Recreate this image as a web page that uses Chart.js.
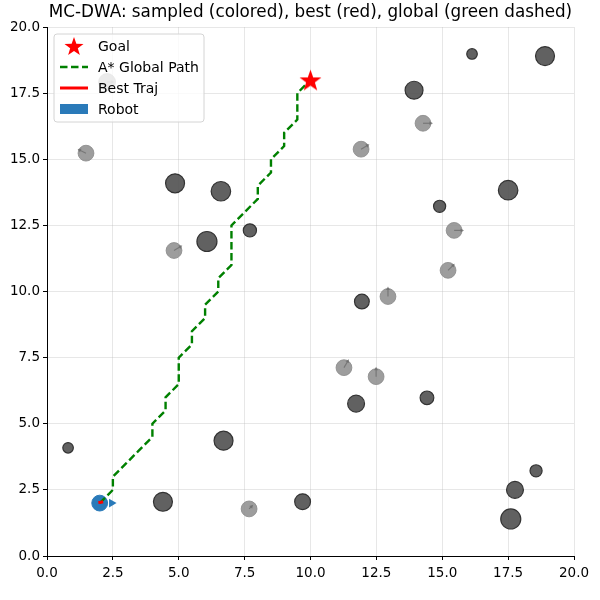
<!DOCTYPE html>
<html>
<head>
<meta charset="utf-8">
<script src="https://cdn.jsdelivr.net/npm/chart.js@4.4.0/dist/chart.umd.min.js"></script>
<style>
  html, body { margin: 0; padding: 0; background: #fff; }
</style>
</head>
<body>
<canvas id="mcdwa" width="600" height="600"></canvas>
<script>
// -----------------------------
// DATA
// -----------------------------
const goalX = [10];
const goalY = [18];

const robotX = [2];
const robotY = [2];
const robotR = 0.3;
const robotHeadX = [2.45];

// static obstacles (dark)
const staticX = [0.8, 4.4, 6.7, 9.7, 11.73, 14.42, 18.56, 17.76, 17.6, 11.95, 7.7, 6.07, 6.6, 4.86, 14.9, 17.5, 13.93, 16.13, 18.9];
const staticY = [4.09, 2.05, 4.36, 2.05, 5.76, 5.98, 3.22, 2.5, 1.4, 9.62, 12.31, 11.89, 13.79, 14.09, 13.22, 13.83, 17.61, 18.98, 18.9];
const staticR = [0.2, 0.36, 0.36, 0.3, 0.32, 0.26, 0.23, 0.32, 0.38, 0.28, 0.25, 0.38, 0.37, 0.36, 0.23, 0.37, 0.34, 0.2, 0.36];

// moving obstacles (light) + velocity arrows
const movingX = [1.48, 2.28, 4.82, 11.92, 14.27, 15.45, 15.22, 12.94, 11.27, 12.49, 7.67];
const movingY = [15.23, 17.92, 11.55, 15.38, 16.36, 12.31, 10.8, 9.81, 7.12, 6.78, 1.78];
const movingR = [0.3, 0.32, 0.3, 0.3, 0.3, 0.3, 0.3, 0.3, 0.3, 0.3, 0.3];
const movingVx = [-0.25, 0.2, 0.25, 0.25, 0.3, 0.3, 0.2, 0, 0.15, 0, 0.1];
const movingVy = [0.12, 0, 0.15, 0.15, 0, 0, 0.2, 0.3, 0.25, 0.3, 0.1];

// A* global path
const pathX = [2, 2.5, 2.5, 3, 3.5, 4, 4, 4.5, 4.5, 5, 5, 5.5, 5.5, 6, 6, 6.5, 6.5, 7, 7, 7.5, 8, 8, 8.5, 8.5, 9, 9, 9.5, 9.5, 10];
const pathY = [2, 2.5, 3, 3.5, 4, 4.5, 5, 5.5, 6, 6.5, 7.5, 8, 8.5, 9, 9.5, 10, 10.5, 11, 12.5, 13, 13.5, 14, 14.5, 15, 15.5, 16, 16.5, 17.5, 18];

// best trajectory
const bestX = [1.95, 2.05, 2.13];
const bestY = [2.02, 2.03, 2.05];

const tickValues = [0, 2.5, 5, 7.5, 10, 12.5, 15, 17.5, 20];

const FONT = "'DejaVu Sans', sans-serif";

const toPts = (xs, ys) => xs.map((x, i) => ({ x, y: ys[i] }));

// filled 5 point star for the goal marker
function makeStar(size, color) {
    const c = document.createElement("canvas");
    c.width = size; c.height = size;
    const g = c.getContext("2d");
    const cx = size / 2, cy = size / 2, ro = size / 2, ri = ro * 0.4;
    g.beginPath();
    for (let i = 0; i < 10; i++) {
        const r = i % 2 === 0 ? ro : ri;
        const a = -Math.PI / 2 + i * Math.PI / 5;
        g.lineTo(cx + r * Math.cos(a), cy + r * Math.sin(a) + size * 0.05);
    }
    g.closePath();
    g.fillStyle = color;
    g.fill();
    return c;
}
const starImg = makeStar(23, "red");
const starSmall = makeStar(20, "red");

// pixel radius from data radius through x scale
function radiusPx(ctx, rs) {
    const sx = ctx.chart.scales.x;
    if (!sx) return 5;
    const r = rs[ctx.dataIndex];
    return Math.abs(sx.getPixelForValue(r) - sx.getPixelForValue(0));
}

// -----------------------------
// PLUGINS
// -----------------------------
const arrowsPlugin = {
    id: "arrows",
    afterDatasetDraw(chart, args) {
        if (args.index !== 1) return;
        const { ctx, scales: { x, y } } = chart;
        ctx.save();
        ctx.strokeStyle = "rgba(110,110,110,0.8)";
        ctx.fillStyle = "rgba(110,110,110,0.8)";
        ctx.lineWidth = 1.2;
        movingX.forEach((mx, i) => {
            const x0 = x.getPixelForValue(mx), y0 = y.getPixelForValue(movingY[i]);
            const x1 = x.getPixelForValue(mx + movingVx[i]), y1 = y.getPixelForValue(movingY[i] + movingVy[i]);
            ctx.beginPath(); ctx.moveTo(x0, y0); ctx.lineTo(x1, y1); ctx.stroke();
            const a = Math.atan2(y1 - y0, x1 - x0);
            ctx.beginPath();
            ctx.moveTo(x1 + 2 * Math.cos(a), y1 + 2 * Math.sin(a));
            ctx.lineTo(x1 + 2.5 * Math.cos(a + 2.2), y1 + 2.5 * Math.sin(a + 2.2));
            ctx.lineTo(x1 + 2.5 * Math.cos(a - 2.2), y1 + 2.5 * Math.sin(a - 2.2));
            ctx.closePath(); ctx.fill();
        });
        ctx.restore();
    }
};

const titleLegendPlugin = {
    id: "titleLegend",
    afterDraw(chart) {
        const { ctx, chartArea } = chart;
        ctx.save();
        // title
        ctx.fillStyle = "#000";
        ctx.font = "16.8px " + FONT;
        ctx.textAlign = "center";
        ctx.textBaseline = "middle";
        ctx.fillText("MC-DWA: sampled (colored), best (red), global (green dashed)", (chartArea.left + chartArea.right) / 2, 13);

        // legend box
        const bx = chartArea.left + 7, by = chartArea.top + 7, bw = 150, bh = 88;
        ctx.beginPath();
        ctx.roundRect(bx, by, bw, bh, 3);
        ctx.fillStyle = "rgba(255,255,255,0.8)";
        ctx.fill();
        ctx.strokeStyle = "#d4d4d4";
        ctx.lineWidth = 1;
        ctx.stroke();

        const rows = [by + 12, by + 33, by + 54, by + 75];
        const ix0 = bx + 6, ix1 = bx + 34, tx = bx + 44;
        // goal
        ctx.drawImage(starSmall, (ix0 + ix1) / 2 - 10, rows[0] - 10);
        // A*
        ctx.beginPath();
        ctx.setLineDash([7.5, 3.5]);
        ctx.strokeStyle = "green"; ctx.lineWidth = 2.4;
        ctx.moveTo(ix0, rows[1]); ctx.lineTo(ix1, rows[1]); ctx.stroke();
        ctx.setLineDash([]);
        // best
        ctx.beginPath();
        ctx.strokeStyle = "red"; ctx.lineWidth = 3;
        ctx.moveTo(ix0, rows[2]); ctx.lineTo(ix1, rows[2]); ctx.stroke();
        // robot
        ctx.fillStyle = "#2a7ab9";
        ctx.fillRect(ix0, rows[3] - 5, ix1 - ix0, 10);

        ctx.fillStyle = "#000";
        ctx.font = "14px " + FONT;
        ctx.textAlign = "left";
        ["Goal", "A* Global Path", "Best Traj", "Robot"].forEach((t, i) => ctx.fillText(t, tx, rows[i] + 1));
        ctx.restore();
    }
};

// -----------------------------
// CHART
// -----------------------------
const axisCommon = (id) => ({
    type: "linear",
    min: 0,
    max: 20,
    afterBuildTicks: (s) => { s.ticks = tickValues.map(v => ({ value: v })); },
    afterFit: (s) => { if (id === "x") s.height = 44; else s.width = 47; },
    grid: { color: "rgba(176,176,176,0.3)", tickColor: "#000", tickLength: 4, lineWidth: 1 },
    border: { color: "#000", width: 1 },
    ticks: {
        color: "#000",
        font: { family: FONT, size: 13.5 },
        padding: id === "x" ? 5 : 3,
        maxRotation: 0,
        callback: (v) => Number(v).toFixed(1)
    }
});

new Chart(document.getElementById("mcdwa"), {
    type: "scatter",
    data: {
        datasets: [
            {
                label: "static",
                data: toPts(staticX, staticY),
                pointRadius: (c) => radiusPx(c, staticR),
                backgroundColor: "rgba(80,80,80,0.9)",
                borderColor: "#333",
                borderWidth: 1.2,
                order: 6
            },
            {
                label: "moving",
                data: toPts(movingX, movingY),
                pointRadius: (c) => radiusPx(c, movingR),
                backgroundColor: "rgba(140,140,140,0.85)",
                borderColor: "rgba(140,140,140,0.85)",
                borderWidth: 1,
                order: 5
            },
            {
                label: "A* Global Path",
                type: "line",
                data: toPts(pathX, pathY),
                borderColor: "green",
                borderWidth: 2.4,
                borderDash: [7.5, 3.5],
                pointRadius: 0,
                fill: false,
                order: 3
            },
            {
                label: "Robot",
                data: toPts(robotX, robotY),
                pointRadius: (c) => radiusPx({ chart: c.chart, dataIndex: 0 }, [robotR]),
                backgroundColor: "#2a7ab9",
                borderColor: "#2a7ab9",
                order: 4
            },
            {
                label: "heading",
                data: toPts(robotHeadX, robotY),
                pointStyle: "triangle",
                rotation: 90,
                pointRadius: 5,
                backgroundColor: "#2a7ab9",
                borderColor: "#2a7ab9",
                borderWidth: 0,
                order: 4
            },
            {
                label: "Best Traj",
                type: "line",
                data: toPts(bestX, bestY),
                borderColor: "red",
                borderWidth: 3,
                pointRadius: 0,
                fill: false,
                order: 2
            },
            {
                label: "Goal",
                data: toPts(goalX, goalY),
                pointStyle: starImg,
                pointRadius: 11,
                order: 1
            }
        ]
    },
    options: {
        responsive: false,
        animation: false,
        layout: { padding: { left: 0, right: 26, top: 27, bottom: 0 } },
        plugins: {
            legend: { display: false },
            title: { display: false },
            tooltip: { enabled: false }
        },
        scales: {
            x: axisCommon("x"),
            y: axisCommon("y")
        }
    },
    plugins: [arrowsPlugin, titleLegendPlugin]
});
</script>
</body>
</html>
